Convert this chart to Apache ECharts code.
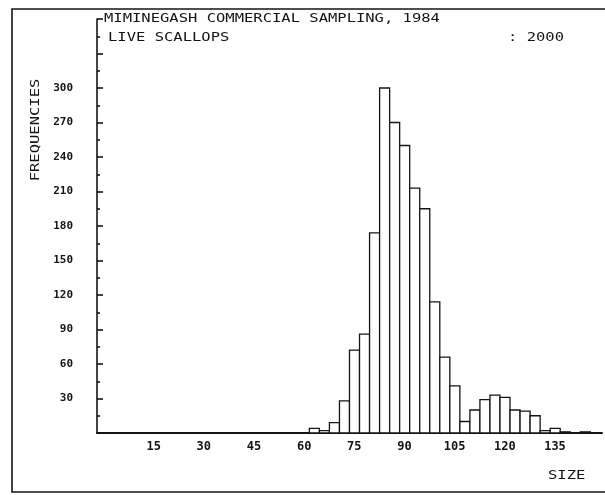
<!DOCTYPE html>
<html>
<head>
<meta charset="utf-8">
<script src="https://cdn.jsdelivr.net/npm/echarts@6/dist/echarts.min.js"></script>
<style>
  html, body { margin: 0; padding: 0; background: #fff; }
  #chart { width: 605px; height: 495px; }
</style>
</head>
<body>
<div id="chart"></div>
<script>
// Shell size classes (mm), 3 mm bins, labelled by bin centre
const sizes = [65, 68, 71, 74, 77, 80, 83, 86, 89, 92, 95, 98, 101, 104, 107,
               110, 113, 116, 119, 122, 125, 128, 131, 134, 137, 140, 143, 146];
// Number of live scallops counted in each size class
const frequencies = [4, 2, 9, 28, 72, 86, 174, 300, 270, 250, 213, 195, 114, 66, 41,
                     10, 20, 29, 33, 31, 20, 19, 15, 2, 4, 1, 0, 1];
const BIN_WIDTH = 3;

// Axis ticks
const xTicks = [15, 30, 45, 60, 75, 90, 105, 120, 135];
const yTicks = [30, 60, 90, 120, 150, 180, 210, 240, 270, 300];

const titleLine1 = 'MIMINEGASH COMMERCIAL SAMPLING, 1984';
const titleLine2 = 'LIVE SCALLOPS';
const totalLabel = ': 2000';
const xName = 'SIZE';
const yName = 'FREQUENCIES';

const INK = '#141414';
const MONO = 'DejaVu Sans Mono';

const chart = echarts.init(document.getElementById('chart'), null, { renderer: 'canvas' });

// Plotter-style annotation text: wide monospace, slightly squashed vertically
const textEl = (text, x, y, extra) => Object.assign({
  type: 'text',
  x: x, y: y,
  scaleY: 0.84,
  style: {
    text: text,
    fill: INK,
    fontFamily: MONO,
    fontSize: 15.5,
    textAlign: 'left',
    textVerticalAlign: 'middle'
  },
  z: 10
}, extra || {});

chart.setOption({
  animation: false,
  backgroundColor: '#fff',
  grid: { left: 97, right: 0, top: 19, bottom: 62, containLabel: false },
  xAxis: {
    type: 'value',
    min: 0,
    max: 151,
    interval: 15,
    axisLine: { show: true, lineStyle: { color: INK, width: 2 } },
    axisTick: { show: false },
    splitLine: { show: false },
    axisLabel: {
      margin: 8,
      padding: [0, 0, 0, 13],
      color: INK,
      fontFamily: MONO,
      fontSize: 12,
      fontWeight: 'bold',
      formatter: v => (xTicks.indexOf(v) >= 0 ? String(v) : '')
    }
  },
  yAxis: {
    type: 'value',
    min: 0,
    max: 360,
    interval: 30,
    axisLine: { show: true, lineStyle: { color: INK, width: 1.6 } },
    axisTick: { show: true, inside: true, length: 6, lineStyle: { color: INK, width: 1.6 } },
    minorTick: { show: true, splitNumber: 2, length: 3, lineStyle: { color: INK, width: 1.6 } },
    splitLine: { show: false },
    axisLabel: {
      margin: 24,
      color: INK,
      fontFamily: MONO,
      fontSize: 11,
      fontWeight: 'bold',
      formatter: v => (yTicks.indexOf(v) >= 0 ? String(v) : '')
    }
  },
  series: [{
    type: 'custom',
    data: sizes.map((s, i) => [s, frequencies[i]]),
    renderItem: function (params, api) {
      const x = api.value(0);
      const y = api.value(1);
      const topLeft = api.coord([x - BIN_WIDTH / 2, y]);
      const bottomRight = api.coord([x + BIN_WIDTH / 2, 0]);
      return {
        type: 'rect',
        shape: {
          x: topLeft[0],
          y: topLeft[1],
          width: bottomRight[0] - topLeft[0],
          height: bottomRight[1] - topLeft[1]
        },
        style: { fill: '#fff', stroke: INK, lineWidth: 1.3 }
      };
    }
  }],
  graphic: [
    {
      type: 'rect',
      shape: { x: 12, y: 9, width: 620, height: 483 },
      style: { fill: 'none', stroke: INK, lineWidth: 1.6 },
      silent: true,
      z: 0
    },
    textEl(titleLine1, 104, 19),
    textEl(titleLine2, 108, 38),
    textEl(totalLabel, 508, 38),
    textEl(xName, 548, 476),
    textEl(yName, 36, 130, {
      rotation: Math.PI / 2,
      style: {
        text: yName,
        fill: INK,
        fontFamily: MONO,
        fontSize: 15.5,
        textAlign: 'center',
        textVerticalAlign: 'middle'
      }
    })
  ]
});
</script>
</body>
</html>
